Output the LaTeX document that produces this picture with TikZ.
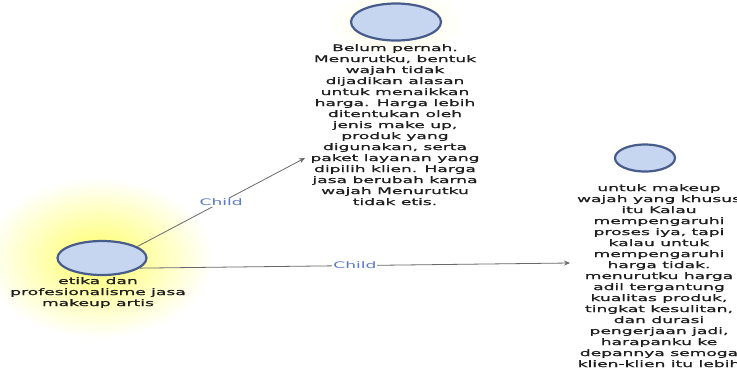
\documentclass[tikz,border=0pt]{standalone}
\usepackage{fontspec}
\setmainfont{DejaVu Sans}
\newfontfamily\lab[FakeStretch=1.9,FakeBold=1]{DejaVu Sans}
\newfontfamily\lablink[FakeStretch=1.9]{DejaVu Sans}
\usetikzlibrary{arrows.meta,shapes.geometric}
\definecolor{bubfill}{RGB}{198,214,240}
\definecolor{bubline}{RGB}{72,92,140}
\definecolor{edgec}{RGB}{105,105,105}
\definecolor{childc}{RGB}{90,120,200}
\definecolor{txt}{RGB}{30,30,30}
\begin{document}
\begin{tikzpicture}[x=1pt,y=-1pt,
  bubble/.style={ellipse, draw=bubline, fill=bubfill, line width=2.2pt, inner sep=0pt},
  nodetext/.style={align=center, text=txt, font=\lab\fontsize{9}{11}\selectfont, inner sep=0pt, anchor=north},
  link/.style={draw=edgec, line width=0.8pt, -{Stealth[length=6pt,width=5pt]}},
  childlab/.style={font=\lablink\fontsize{9}{11}\selectfont, text=childc, fill=white, inner sep=1pt}]
\useasboundingbox[fill=white] (0,0) rectangle (737,373);
\shade[inner color=yellow!60, outer color=white] (98,258) ellipse [x radius=115pt, y radius=80pt];
\shade[inner color=yellow!12, outer color=white] (396,22) ellipse [x radius=70pt, y radius=35pt];

\node[bubble, minimum width=89pt, minimum height=34pt] (root) at (102,258) {};
\node[nodetext] (rootlab) at (98,277) {etika dan\\profesionalisme jasa\\makeup artis};

\node[bubble, minimum width=90pt, minimum height=37pt] (topb) at (396,22) {};
\node[nodetext] (toptext) at (395,44) {Belum pernah.\\Menurutku, bentuk\\wajah tidak\\dijadikan alasan\\untuk menaikkan\\harga. Harga lebih\\ditentukan oleh\\jenis make up,\\produk yang\\digunakan, serta\\paket layanan yang\\dipilih klien. Harga\\jasa berubah karna\\wajah Menurutku\\tidak etis.};

\node[bubble, minimum width=60pt, minimum height=27pt] (rightb) at (645,158) {};
\node[nodetext] (righttext) at (659,184) {untuk makeup\\wajah yang khusus\\itu Kalau\\mempengaruhi\\proses iya, tapi\\kalau untuk\\mempengaruhi\\harga tidak.\\menurutku harga\\adil tergantung\\kualitas produk,\\tingkat kesulitan,\\dan durasi\\pengerjaan jadi,\\harapanku ke\\depannya semoga\\klien-klien itu lebih};

\coordinate (tip1) at (305,158);
\coordinate (tip2) at (570,263);
\draw[link] (root.18) -- node[childlab, pos=0.5] {Child} (tip1);
\draw[link] (root.-15) -- node[childlab, pos=0.5] {Child} (tip2);
\end{tikzpicture}
\end{document}
